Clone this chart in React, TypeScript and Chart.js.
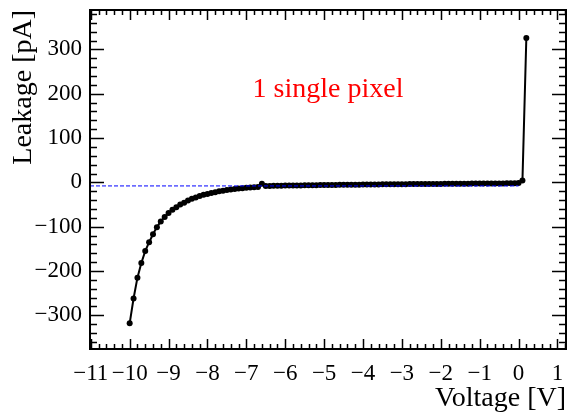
import React, { useEffect, useRef } from "react";
import { Chart, registerables } from "chart.js";

Chart.register(...registerables);

// ---- data ----
const voltage = [
  -10.0, -9.9, -9.8, -9.7, -9.6, -9.5, -9.4, -9.3, -9.2, -9.1,
  -9.0, -8.9, -8.8, -8.7, -8.6, -8.5, -8.4, -8.3, -8.2, -8.1,
  -8.0, -7.9, -7.8, -7.7, -7.6, -7.5, -7.4, -7.3, -7.2, -7.1,
  -7.0, -6.9, -6.8, -6.7, -6.6, -6.5, -6.4, -6.3, -6.2, -6.1,
  -6.0, -5.9, -5.8, -5.7, -5.6, -5.5, -5.4, -5.3, -5.2, -5.1,
  -5.0, -4.9, -4.8, -4.7, -4.6, -4.5, -4.4, -4.3, -4.2, -4.1,
  -4.0, -3.9, -3.8, -3.7, -3.6, -3.5, -3.4, -3.3, -3.2, -3.1,
  -3.0, -2.9, -2.8, -2.7, -2.6, -2.5, -2.4, -2.3, -2.2, -2.1,
  -2.0, -1.9, -1.8, -1.7, -1.6, -1.5, -1.4, -1.3, -1.2, -1.1,
  -1.0, -0.9, -0.8, -0.7, -0.6, -0.5, -0.4, -0.3, -0.2, -0.1,
  0.0, 0.1, 0.2,
];

const leakage = [
  -318, -262, -215, -182, -155, -135, -117, -101, -88, -78,
  -69, -62, -56, -50, -46, -41, -37, -34, -31, -28,
  -26, -24, -22, -20, -19, -17, -16, -15, -14, -13,
  -12, -11.5, -11, -10.5, -3, -8, -8, -7.8, -7.6, -7.5,
  -7.3, -7.2, -7.0, -6.9, -6.8, -6.6, -6.5, -6.4, -6.3, -6.1,
  -6.0, -5.9, -5.8, -5.7, -5.6, -5.5, -5.4, -5.3, -5.2, -5.1,
  -5.0, -4.9, -4.8, -4.7, -4.6, -4.5, -4.4, -4.3, -4.3, -4.2,
  -4.1, -4.0, -3.9, -3.9, -3.8, -3.7, -3.6, -3.6, -3.5, -3.4,
  -3.4, -3.3, -3.2, -3.2, -3.1, -3.0, -3.0, -2.9, -2.8, -2.8,
  -2.7, -2.6, -2.6, -2.5, -2.4, -2.4, -2.3, -2.2, -2.1, -2.0,
  -1.5, 4, 326,
];

const refLineX = [-11.02, 0];
const refLineY = [-8, -8];

const xRange = [-11.02, 1.22];
const yRange = [-376, 389];

const xTitle = "Voltage [V]";
const yTitle = "Leakage [pA]";
const annotationText = "1 single pixel";

const SERIF = '"Liberation Serif", "Times New Roman", Times, serif';

const fmt = (v: number) => (v < 0 ? "\u2212" + Math.abs(v) : String(v));

const framePlugin = {
  id: "rootFrame",
  afterDatasetsDraw(chart: any) {
    const { ctx, chartArea, scales } = chart;
    const { left, right, top, bottom } = chartArea;
    const xs = scales.x;
    const ys = scales.y;
    ctx.save();
    ctx.strokeStyle = "#000";
    ctx.lineWidth = 1.5;
    ctx.beginPath();
    // x ticks: major every 1, minor every 0.2
    for (let i = -55; i <= 6; i++) {
      const px = Math.round(xs.getPixelForValue(i / 5)) + 0.5;
      if (px < left || px > right) continue;
      const len = i % 5 === 0 ? 10 : 5;
      ctx.moveTo(px, bottom);
      ctx.lineTo(px, bottom - len);
      ctx.moveTo(px, top);
      ctx.lineTo(px, top + len);
    }
    // y ticks: major every 100, minor every 20
    for (let j = -18; j <= 19; j++) {
      const py = Math.round(ys.getPixelForValue(j * 20)) + 0.5;
      if (py < top || py > bottom) continue;
      const len = j % 5 === 0 ? 14 : 7;
      ctx.moveTo(left, py);
      ctx.lineTo(left + len, py);
      ctx.moveTo(right, py);
      ctx.lineTo(right - len, py);
    }
    ctx.stroke();
    ctx.lineWidth = 2;
    ctx.strokeRect(left, top, right - left, bottom - top);
    ctx.restore();
  },
  afterDraw(chart: any) {
    const { ctx, scales } = chart;
    ctx.save();
    ctx.fillStyle = "#ff0000";
    ctx.font = `28px ${SERIF}`;
    ctx.textAlign = "left";
    ctx.textBaseline = "alphabetic";
    ctx.fillText(annotationText, scales.x.getPixelForValue(-6.84), scales.y.getPixelForValue(193));
    ctx.restore();
  },
};

export default function App() {
  const ref = useRef<HTMLCanvasElement | null>(null);
  useEffect(() => {
    if (!ref.current) return;
    const chart = new Chart(ref.current, {
      type: "scatter",
      data: {
        datasets: [
          {
            label: "ref",
            data: refLineX.map((x, i) => ({ x, y: refLineY[i] })),
            showLine: true,
            borderColor: "#0000ff",
            borderWidth: 1,
            borderDash: [4, 2],
            pointRadius: 0,
          },
          {
            label: "leakage",
            data: voltage.map((x, i) => ({ x, y: leakage[i] })),
            showLine: true,
            borderColor: "#000",
            borderWidth: 2,
            pointRadius: 3,
            pointBackgroundColor: "#000",
            pointBorderColor: "#000",
            pointBorderWidth: 0,
          },
        ],
      },
      options: {
        responsive: false,
        animation: false,
        layout: { padding: { top: 10, right: 4, left: 0, bottom: 0 } },
        plugins: { legend: { display: false }, tooltip: { enabled: false } },
        scales: {
          x: {
            type: "linear",
            min: xRange[0],
            max: xRange[1],
            grid: { display: false, drawTicks: false },
            border: { display: false },
            ticks: {
              stepSize: 1,
              includeBounds: false,
              autoSkip: false,
              maxRotation: 0,
              padding: 11,
              color: "#000",
              font: { family: SERIF, size: 23 },
              callback: (v: any) => fmt(Number(v)),
            },
            title: {
              display: true,
              text: xTitle,
              align: "end",
              color: "#000",
              font: { family: SERIF, size: 28 },
              padding: { top: 0, bottom: 0 },
            },
            afterFit: (s: any) => {
              s.height = 66;
              s.paddingLeft = 0;
              s.paddingRight = 0;
            },
          },
          y: {
            type: "linear",
            min: yRange[0],
            max: yRange[1],
            grid: { display: false, drawTicks: false },
            border: { display: false },
            ticks: {
              stepSize: 100,
              includeBounds: false,
              padding: 8,
              color: "#000",
              font: { family: SERIF, size: 23 },
              callback: (v: any) => fmt(Number(v)),
            },
            title: {
              display: true,
              text: yTitle,
              align: "end",
              color: "#000",
              font: { family: SERIF, size: 28 },
              padding: { top: 7, bottom: 0 },
            },
            afterFit: (s: any) => {
              s.width = 90;
              s.paddingTop = 0;
              s.paddingBottom = 0;
            },
          },
        },
      },
      plugins: [framePlugin],
    });
    return () => chart.destroy();
  }, []);
  return (
    <div style={{ position: "fixed", left: 0, top: 0, width: 570, height: 415, background: "#fff" }}>
      <canvas ref={ref} width={570} height={415} />
    </div>
  );
}
